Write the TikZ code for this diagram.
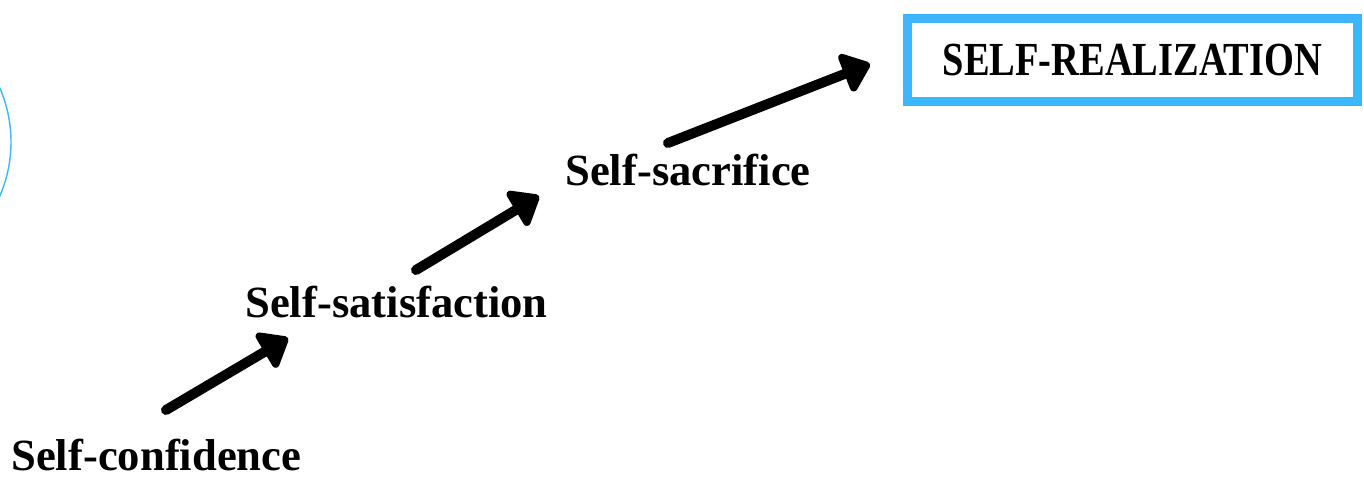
\documentclass[tikz,border=0pt]{standalone}
\usepackage{fontspec}
\setmainfont{Liberation Serif}
\newfontfamily\capsfont[FakeStretch=0.81]{Liberation Serif}
\usetikzlibrary{arrows.meta, positioning}
\definecolor{skyline}{HTML}{3CB6FF}

\begin{document}
\begin{tikzpicture}[x=0.02cm, y=-0.02cm,
		step label/.style={anchor=base west, inner sep=0pt, font=\fontsize{25.4}{28}\selectfont\bfseries},
		climb/.style={line width=0.2cm, line cap=round, -{Triangle[round, length=0.6cm, width=0.92cm]}}]
	\useasboundingbox (0,0) rectangle (1364,477);
	\clip (0,0) rectangle (1364,477);

	% faint circle at the left edge
	\draw[skyline, line width=0.8pt] (-124.6,142) circle (135.6);

	\node[step label] (conf) at (11,470) {Self-confidence};
	\node[step label] (satis) at (245,317) {Self-satisfaction};
	\node[step label] (sacr) at (565,185) {Self-sacrifice};
	\node[draw=skyline, line width=0.18cm, minimum width=9cm, minimum height=1.66cm,
		font=\fontsize{27}{30}\selectfont\bfseries\capsfont] (real) at (1132.5,60) {SELF-REALIZATION};

	\coordinate (a1) at (166,410);
	\coordinate (b1) at (288,338);
	\coordinate (a2) at (416,270);
	\coordinate (b2) at (539,196);
	\coordinate (a3) at (668,143);
	\coordinate (b3) at (870,64);

	\draw[climb] (a1) -- (b1);
	\draw[climb] (a2) -- (b2);
	\draw[climb] (a3) -- (b3);
\end{tikzpicture}
\end{document}
